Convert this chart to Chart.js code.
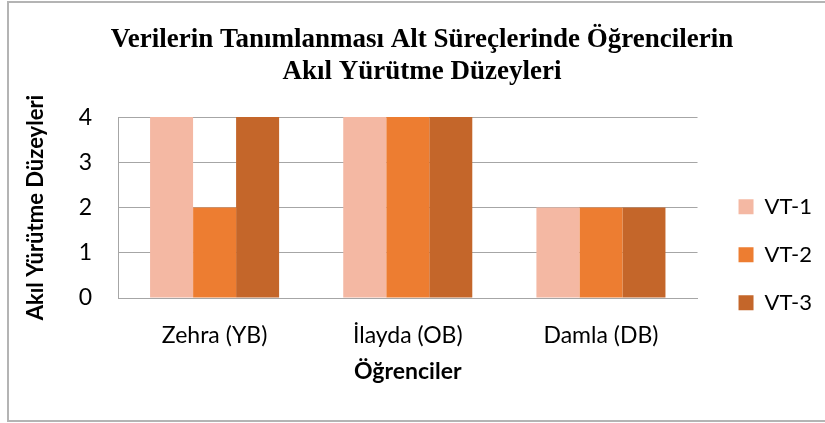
<!DOCTYPE html>
<html>
<head>
<meta charset="utf-8">
<script src="https://cdn.jsdelivr.net/npm/chart.js@4.4.0/dist/chart.umd.min.js"></script>
<style>
  html, body { margin: 0; padding: 0; background: #fff; overflow: hidden; }
  #frame { position: absolute; left: 7px; top: 1px; width: 900px; height: 421px; box-sizing: border-box; border: 2px solid #b4b4b4; }
  #wrap { position: absolute; left: 0; top: 0; width: 825px; height: 423px; }
</style>
</head>
<body>
<div id="frame"></div>
<div id="wrap"><canvas id="grafik" width="825" height="423"></canvas></div>
<script>
// veriler
var ogrenciler = ['Zehra (YB)', 'İlayda (OB)', 'Damla (DB)'];
var seriler = ['VT-1', 'VT-2', 'VT-3'];
var vt1 = [4, 4, 2];
var vt2 = [2, 4, 2];
var vt3 = [4, 4, 2];
var renkler = ['#F4B8A3', '#ED7D31', '#C4662A'];
var yMin = 0, yMax = 4, yAdim = 1;

var yazi = 'Lato';
var gri = '#a6a6a6';

var grafik = new Chart(document.getElementById('grafik'), {
  type: 'bar',
  data: {
    labels: ogrenciler,
    datasets: [
      { label: seriler[0], data: vt1, backgroundColor: renkler[0] },
      { label: seriler[1], data: vt2, backgroundColor: renkler[1] },
      { label: seriler[2], data: vt3, backgroundColor: renkler[2] }
    ]
  },
  options: {
    responsive: false,
    animation: false,
    layout: { padding: { top: 10, left: 22, right: 3, bottom: 10 } },
    datasets: { bar: { barPercentage: 1, categoryPercentage: 0.668 } },
    plugins: {
      title: {
        display: true,
        text: ['Verilerin Tanımlanması Alt Süreçlerinde Öğrencilerin', 'Akıl Yürütme Düzeyleri'],
        color: '#000',
        font: { family: 'Liberation Serif', size: 27, weight: 'bold', lineHeight: 1.15 },
        padding: { top: 15, bottom: 30 }
      },
      legend: {
        position: 'right',
        align: 'center',
        title: { display: true, text: ' ', font: { size: 12, lineHeight: 1.2 }, padding: { top: 0, bottom: 72 } },
        labels: {
          boxWidth: 15,
          boxHeight: 15,
          padding: 26,
          color: '#000',
          font: { family: yazi, size: 22, lineHeight: 1 }
        }
      },
      tooltip: { enabled: false }
    },
    scales: {
      x: {
        grid: { display: false },
        border: { display: true, color: gri, width: 1 },
        ticks: { padding: 16, color: '#000', font: { family: yazi, size: 23 } },
        title: {
          display: true,
          text: 'Öğrenciler',
          color: '#000',
          font: { family: yazi, size: 23, weight: 'bold' },
          padding: { top: 10, bottom: 28 }
        },
        afterFit: function (s) { s.height = 115; }
      },
      y: {
        min: yMin,
        max: yMax,
        grid: { color: gri, lineWidth: 1, drawTicks: false },
        border: { display: true, color: gri, width: 1 },
        ticks: { stepSize: yAdim, padding: 26, color: '#000', font: { family: yazi, size: 23 } },
        title: {
          display: true,
          text: 'Akıl Yürütme Düzeyleri',
          color: '#000',
          font: { family: yazi, size: 22, weight: 'bold' },
          padding: { top: 1, bottom: 0 }
        },
        afterFit: function (s) { s.width = 96; }
      },
      bosluk: {
        position: 'right',
        display: true,
        grid: { display: false },
        border: { display: false },
        ticks: { display: false },
        afterFit: function (s) { s.width = 15; }
      }
    }
  }
});
</script>
</body>
</html>
